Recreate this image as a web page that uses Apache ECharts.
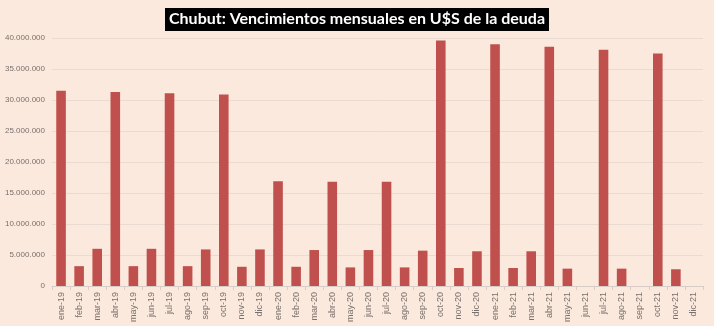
<!DOCTYPE html>
<html>
<head>
<meta charset="utf-8">
<script src="https://cdn.jsdelivr.net/npm/echarts@6/dist/echarts.min.js"></script>
<style>
  html, body { margin: 0; padding: 0; background: #fce9dd; }
  #chart { width: 714px; height: 326px; }
</style>
</head>
<body>
<div id="chart"></div>
<script>
// Monthly categories, Jan 2019 – Dec 2021
const months = [
  'ene-19','feb-19','mar-19','abr-19','may-19','jun-19','jul-19','ago-19','sep-19','oct-19','nov-19','dic-19',
  'ene-20','feb-20','mar-20','abr-20','may-20','jun-20','jul-20','ago-20','sep-20','oct-20','nov-20','dic-20',
  'ene-21','feb-21','mar-21','abr-21','may-21','jun-21','jul-21','ago-21','sep-21','oct-21','nov-21','dic-21'
];

// Debt maturities in US$ per month
const maturities = [
  31500000, 3200000, 6000000, 31300000, 3200000, 6000000, 31100000, 3200000, 5900000, 30900000, 3100000, 5900000,
  16900000, 3100000, 5800000, 16800000, 3000000, 5800000, 16800000, 3000000, 5700000, 39600000, 2900000, 5600000,
  39000000, 2900000, 5600000, 38600000, 2800000, 0, 38100000, 2800000, 0, 37500000, 2700000, 0
];

// Value axis ticks
const yMin = 0;
const yMax = 40000000;
const yStep = 5000000;

function thousands(v) {
  return String(Math.round(v)).replace(/\B(?=(\d{3})+(?!\d))/g, '.');
}

const chart = echarts.init(document.getElementById('chart'), null, { renderer: 'canvas' });
chart.setOption({
  backgroundColor: '#fce9dd',
  animation: false,
  title: {
    text: 'Chubut: Vencimientos mensuales en U$S de la deuda',
    left: 'center',
    top: 8,
    backgroundColor: '#000000',
    padding: [3, 4, 4, 4],
    textStyle: {
      color: '#ffffff',
      fontFamily: 'Lato',
      fontSize: 16,
      fontWeight: 'bold'
    }
  },
  grid: { left: 52, right: 11, top: 38, bottom: 40, containLabel: false },
  xAxis: {
    type: 'category',
    data: months,
    boundaryGap: true,
    axisLine: { lineStyle: { color: '#d8cdc6', width: 1 } },
    axisTick: { show: true, alignWithLabel: false, length: 4, lineStyle: { color: '#d8cdc6' } },
    axisLabel: {
      interval: 0,
      rotate: 90,
      color: '#77706c',
      fontSize: 9,
      fontFamily: 'Liberation Sans',
      margin: 6
    }
  },
  yAxis: {
    type: 'value',
    min: yMin,
    max: yMax,
    interval: yStep,
    axisLine: { show: false },
    axisTick: { show: false },
    splitLine: { lineStyle: { color: '#e9dbd2', width: 1 } },
    axisLabel: {
      color: '#77706c',
      fontSize: 8,
      fontFamily: 'Liberation Sans',
      margin: 7,
      formatter: thousands
    }
  },
  series: [{
    type: 'bar',
    data: maturities,
    barWidth: '53%',
    itemStyle: { color: '#c0504d' }
  }]
});
</script>
</body>
</html>
